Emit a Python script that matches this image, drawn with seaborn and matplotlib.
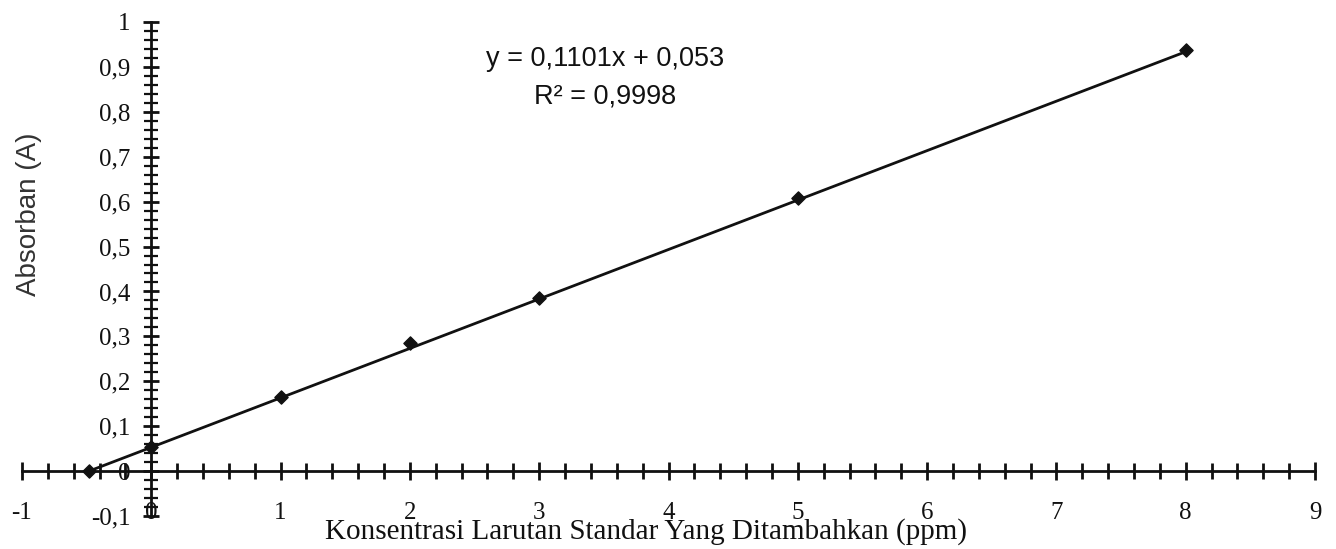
import numpy as np
import pandas as pd
import matplotlib
matplotlib.use("Agg")
import matplotlib.pyplot as plt
import seaborn as sns
from matplotlib.ticker import MultipleLocator, FuncFormatter, FixedLocator

# ---- data ----
conc = [-0.48, 0, 1, 2, 3, 5, 8]
absorb = [0.0, 0.053, 0.165, 0.285, 0.386, 0.608, 0.938]
slope = 0.1101
intercept = 0.053
r2 = 0.9998
line_x = [-0.48, 8]
x_ticks = [-1, 0, 1, 2, 3, 4, 5, 6, 7, 8, 9]
y_ticks = [-0.1, 0, 0.1, 0.2, 0.3, 0.4, 0.5, 0.6, 0.7, 0.8, 0.9, 1.0]
xlabel = "Konsentrasi Larutan Standar Yang Ditambahkan (ppm)"
ylabel = "Absorban (A)"
eq_text = "y = 0,1101x + 0,053\nR² = 0,9998"

sns.set_style("white")
plt.rcParams["font.family"] = ["Liberation Serif", "DejaVu Serif"]

fig = plt.figure(figsize=(13.36, 5.49), dpi=100)
ax = fig.add_axes([22 / 1336, 33 / 549, 1293 / 1336, 494 / 549])

df_pts = pd.DataFrame({"x": conc, "y": absorb})
df_line = pd.DataFrame({"x": line_x, "y": [slope * v + intercept for v in line_x]})

sns.lineplot(data=df_line, x="x", y="y", ax=ax, color="#111111", linewidth=2.0, zorder=3)
sns.scatterplot(data=df_pts, x="x", y="y", ax=ax, marker="D", s=45, color="#111111",
                edgecolor="#111111", linewidth=1.0, zorder=4)

ax.set_xlim(-1, 9)
ax.set_ylim(-0.1, 1.0)

# spines through the origin
for s in ["top", "right"]:
    ax.spines[s].set_visible(False)
ax.spines["left"].set_position(("data", 0))
ax.spines["bottom"].set_position(("data", 0))
for s in ["left", "bottom"]:
    ax.spines[s].set_linewidth(2.0)
    ax.spines[s].set_color("#111111")

ax.xaxis.set_major_locator(FixedLocator(x_ticks))
ax.xaxis.set_minor_locator(MultipleLocator(0.2))
ax.yaxis.set_major_locator(FixedLocator(y_ticks))
ax.yaxis.set_minor_locator(MultipleLocator(0.02))

def fmt_comma(v, pos):
    if abs(v - round(v)) < 1e-9:
        return f"{int(round(v))}"
    return f"{v:.1f}".replace(".", ",")

ax.xaxis.set_major_formatter(FuncFormatter(fmt_comma))
ax.yaxis.set_major_formatter(FuncFormatter(fmt_comma))

ax.tick_params(which="both", bottom=True, left=True, top=False, right=False)
ax.tick_params(axis="x", which="major", direction="inout", length=13, width=2,
               color="#111111", labelsize=18, pad=16, labelcolor="#111111")
ax.tick_params(axis="x", which="minor", direction="inout", length=11, width=2, color="#111111")
ax.tick_params(axis="y", which="major", direction="inout", length=12, width=2,
               color="#111111", labelsize=18, pad=9, labelcolor="#111111")
ax.tick_params(axis="y", which="minor", direction="inout", length=10, width=1.6, color="#111111")

ax.set_xlabel(xlabel, fontsize=21, color="#111111")
ax.xaxis.set_label_coords(0.4826, -0.004)
ax.set_ylabel(ylabel, fontsize=20, color="#333333", family=["Liberation Sans", "DejaVu Sans"])
ax.yaxis.set_label_coords(0.0155, 0.611)

ax.text(0.451, 0.887, eq_text, transform=ax.transAxes, ha="center", va="center",
        fontsize=19.5, color="#111111", family=["Liberation Sans", "DejaVu Sans"],
        linespacing=1.55)

fig.savefig("out.png", dpi=100)
